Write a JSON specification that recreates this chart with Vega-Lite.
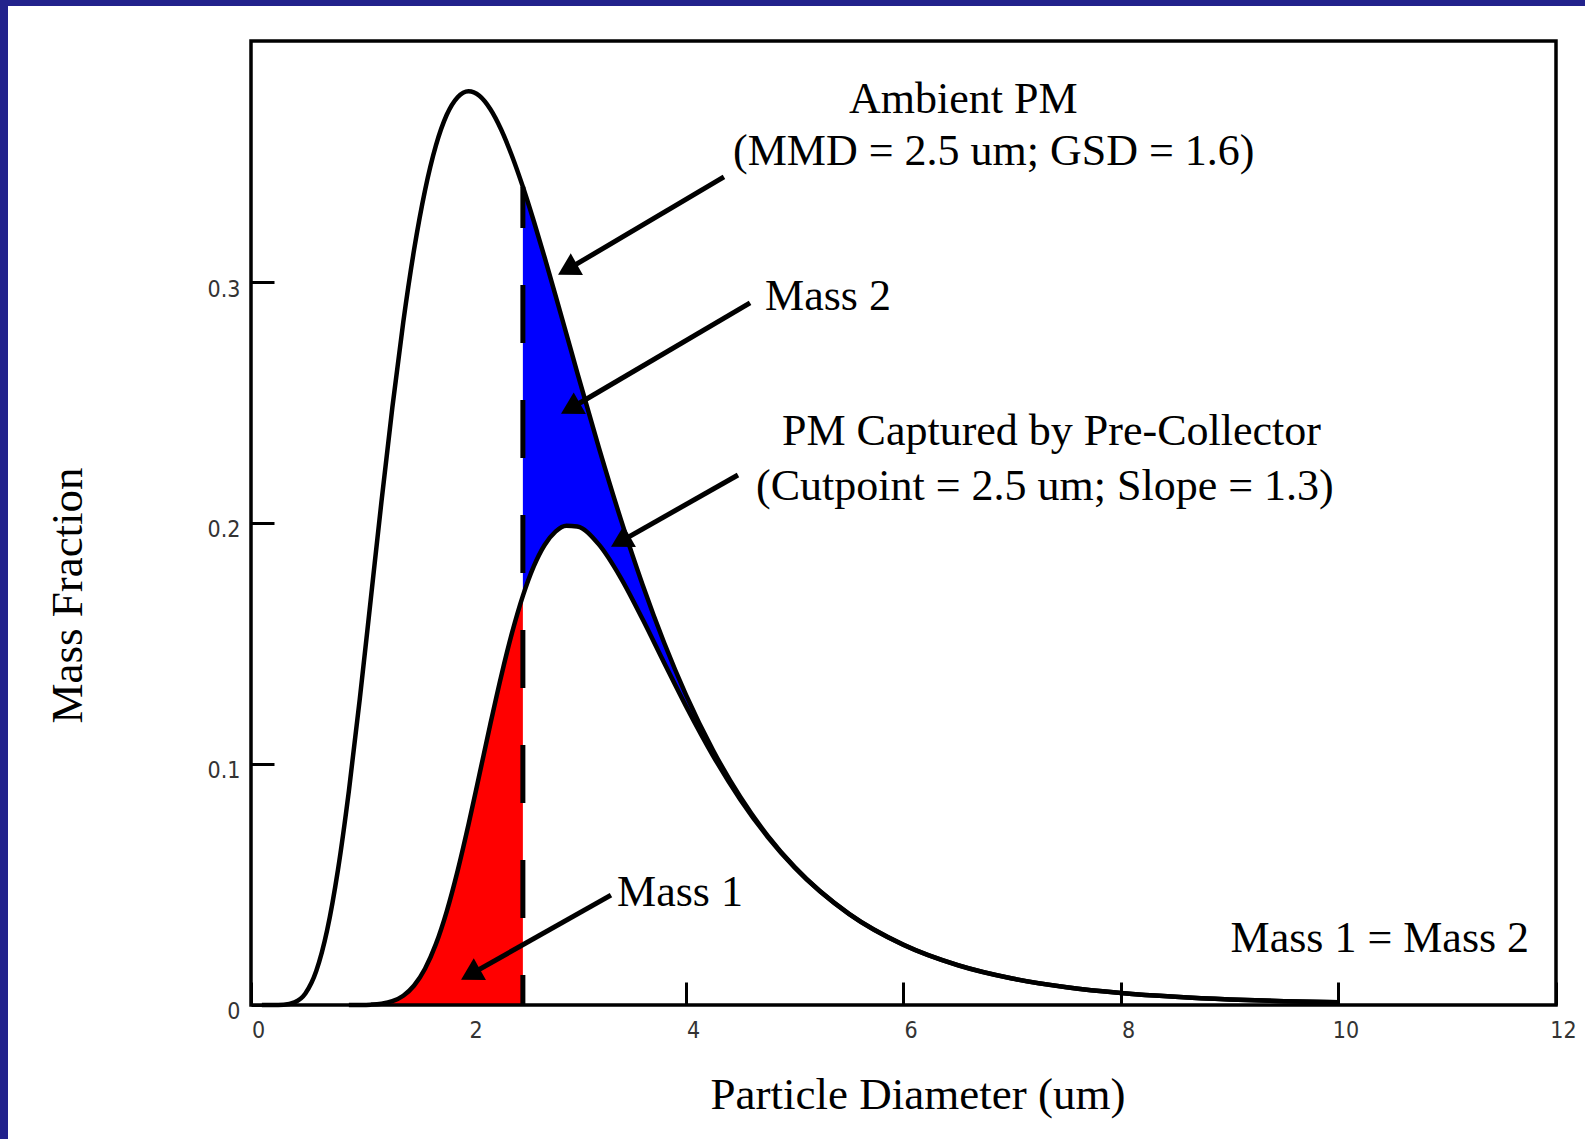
{
  "$schema": "https://vega.github.io/schema/vega-lite/v6.json",
  "width": 1577,
  "height": 1133,
  "autosize": {"type": "none"},
  "padding": {"left": 8, "top": 6, "right": 0, "bottom": 0},
  "background": "#22228c",
  "config": {
    "view": {"fill": "white", "stroke": null},
    "axis": {
      "domain": false,
      "grid": false,
      "tickColor": "black",
      "tickWidth": 3,
      "tickSize": -23,
      "labelFont": "'DejaVu Sans Condensed', 'Liberation Sans', sans-serif",
      "labelFontSize": 23,
      "labelColor": "#333333",
      "labelFlush": false,
      "labelOverlap": false,
      "titleFont": "Liberation Serif",
      "titleFontSize": 45,
      "titleFontWeight": "normal",
      "titleColor": "black"
    },
    "axisX": {
      "offset": -134,
      "labelPadding": 37,
      "labelOffset": 7,
      "labelBaseline": "top",
      "labelAlign": "center",
      "titleX": 909.5,
      "titleY": 103,
      "titleAlign": "center",
      "titleBaseline": "alphabetic"
    },
    "axisY": {
      "offset": -243,
      "labelPadding": 34,
      "labelOffset": 7,
      "labelAlign": "right",
      "labelBaseline": "middle",
      "titleAngle": -90,
      "titleX": -170,
      "titleY": 589,
      "titleAlign": "center",
      "titleBaseline": "alphabetic"
    }
  },
  "datasets": {
    "curve": [
      {"d": 0.1, "ambient": 0, "captured": 0},
      {"d": 0.2, "ambient": 0, "captured": 0},
      {"d": 0.3, "ambient": 0.0001, "captured": 0},
      {"d": 0.4, "ambient": 0.0011, "captured": 0},
      {"d": 0.5, "ambient": 0.0048, "captured": 0},
      {"d": 0.6, "ambient": 0.0141, "captured": 0},
      {"d": 0.7, "ambient": 0.031, "captured": 0},
      {"d": 0.8, "ambient": 0.0562, "captured": 0},
      {"d": 0.9, "ambient": 0.0888, "captured": 0},
      {"d": 1.0, "ambient": 0.1269, "captured": 0.00003},
      {"d": 1.1, "ambient": 0.1678, "captured": 0.00015},
      {"d": 1.2, "ambient": 0.209, "captured": 0.00054},
      {"d": 1.3, "ambient": 0.248, "captured": 0.00157},
      {"d": 1.4, "ambient": 0.2833, "captured": 0.00384},
      {"d": 1.5, "ambient": 0.3135, "captured": 0.00808},
      {"d": 1.6, "ambient": 0.338, "captured": 0.01503},
      {"d": 1.7, "ambient": 0.3566, "captured": 0.02524},
      {"d": 1.8, "ambient": 0.3694, "captured": 0.03888},
      {"d": 1.9, "ambient": 0.3767, "captured": 0.05567},
      {"d": 2.0, "ambient": 0.3792, "captured": 0.07489},
      {"d": 2.1, "ambient": 0.3773, "captured": 0.09553},
      {"d": 2.2, "ambient": 0.3718, "captured": 0.11639},
      {"d": 2.3, "ambient": 0.3633, "captured": 0.13635},
      {"d": 2.4, "ambient": 0.3523, "captured": 0.15439},
      {"d": 2.5, "ambient": 0.3395, "captured": 0.16976},
      {"d": 2.6, "ambient": 0.3253, "captured": 0.18199},
      {"d": 2.7, "ambient": 0.3102, "captured": 0.19088},
      {"d": 2.8, "ambient": 0.2945, "captured": 0.19644},
      {"d": 2.9, "ambient": 0.2785, "captured": 0.19887},
      {"d": 3.0, "ambient": 0.2624, "captured": 0.19852},
      {"d": 3.2, "ambient": 0.2311, "captured": 0.19101},
      {"d": 3.4, "ambient": 0.2016, "captured": 0.17725},
      {"d": 3.6, "ambient": 0.1745, "captured": 0.16014},
      {"d": 3.8, "ambient": 0.1502, "captured": 0.14191},
      {"d": 4.0, "ambient": 0.1287, "captured": 0.124},
      {"d": 4.25, "ambient": 0.1056, "captured": 0.10331},
      {"d": 4.5, "ambient": 0.0863, "captured": 0.08521},
      {"d": 4.75, "ambient": 0.0703, "captured": 0.06982},
      {"d": 5.0, "ambient": 0.0572, "captured": 0.05699},
      {"d": 5.5, "ambient": 0.0378, "captured": 0.03774},
      {"d": 6.0, "ambient": 0.025, "captured": 0.02495},
      {"d": 6.5, "ambient": 0.0165, "captured": 0.01654},
      {"d": 7.0, "ambient": 0.011, "captured": 0.011},
      {"d": 7.5, "ambient": 0.0074, "captured": 0.0074},
      {"d": 8.0, "ambient": 0.005, "captured": 0.005},
      {"d": 8.5, "ambient": 0.0034, "captured": 0.0034},
      {"d": 9.0, "ambient": 0.0023, "captured": 0.0023},
      {"d": 9.5, "ambient": 0.0016, "captured": 0.0016},
      {"d": 10.0, "ambient": 0.0011, "captured": 0.0011}
    ],
    "labels": [
      {"label": "Ambient PM", "tx": 6.55, "ty": 0.3701},
      {"label": "(MMD = 2.5 um; GSD = 1.6)", "tx": 6.83, "ty": 0.3485},
      {"label": "Mass 2", "tx": 5.306, "ty": 0.2884},
      {"label": "PM Captured by Pre-Collector", "tx": 7.36, "ty": 0.2324},
      {"label": "(Cutpoint = 2.5 um; Slope = 1.3)", "tx": 7.3, "ty": 0.2095},
      {"label": "Mass 1", "tx": 3.945, "ty": 0.0411},
      {"label": "Mass 1 = Mass 2", "tx": 10.38, "ty": 0.022}
    ],
    "arrows": [
      {"ax": 4.349, "ay": 0.3436, "hx": 2.91, "hy": 0.3052},
      {"ax": 4.589, "ay": 0.2913, "hx": 2.937, "hy": 0.2475},
      {"ax": 4.478, "ay": 0.2199, "hx": 3.397, "hy": 0.1923},
      {"ax": 3.31, "ay": 0.0456, "hx": 2.018, "hy": 0.0127}
    ]
  },
  "layer": [
    {
      "data": {"name": "curve"},
      "transform": [{"filter": "datum.d >= 1.0 && datum.d <= 2.5"}],
      "mark": {"type": "area", "color": "#ff0000", "interpolate": "monotone"},
      "encoding": {
        "x": {
          "field": "d", "type": "quantitative",
          "scale": {"domain": [-2.234483, 12.266667], "nice": false, "zero": false},
          "axis": {"values": [0, 2, 4, 6, 8, 10, 12], "format": "d", "title": "Particle Diameter (um)"}
        },
        "y": {
          "field": "captured", "type": "quantitative",
          "scale": {"domain": [-0.055602, 0.414523], "nice": false, "zero": false},
          "axis": {"values": [0, 0.1, 0.2, 0.3], "format": "~g", "title": "Mass Fraction"}
        },
        "y2": {"datum": 0}
      }
    },
    {
      "data": {"name": "curve"},
      "transform": [{"filter": "datum.d >= 2.5"}],
      "mark": {"type": "area", "color": "#0000ff", "interpolate": "monotone"},
      "encoding": {
        "x": {"field": "d", "type": "quantitative"},
        "y": {"field": "ambient", "type": "quantitative"},
        "y2": {"field": "captured"}
      }
    },
    {
      "data": {"values": [{"cx": 2.5, "lo": 0, "hi": 0.3395}]},
      "mark": {"type": "rule", "color": "black", "strokeWidth": 5, "strokeDash": [58, 57], "strokeDashOffset": 28},
      "encoding": {
        "x": {"field": "cx", "type": "quantitative"},
        "y": {"field": "lo", "type": "quantitative"},
        "y2": {"field": "hi"}
      }
    },
    {
      "data": {"name": "curve"},
      "mark": {"type": "line", "color": "black", "strokeWidth": 4.5, "interpolate": "monotone", "strokeJoin": "round"},
      "encoding": {
        "x": {"field": "d", "type": "quantitative"},
        "y": {"field": "ambient", "type": "quantitative"}
      }
    },
    {
      "data": {"name": "curve"},
      "transform": [{"filter": "datum.d >= 0.9"}],
      "mark": {"type": "line", "color": "black", "strokeWidth": 4.5, "interpolate": "monotone", "strokeJoin": "round"},
      "encoding": {
        "x": {"field": "d", "type": "quantitative"},
        "y": {"field": "captured", "type": "quantitative"}
      }
    },
    {
      "data": {"values": [{"fx0": 0, "fx1": 12, "fy0": 0, "fy1": 0.4}]},
      "mark": {"type": "rect", "filled": false, "stroke": "black", "strokeWidth": 3.5},
      "encoding": {
        "x": {"field": "fx0", "type": "quantitative"},
        "x2": {"field": "fx1"},
        "y": {"field": "fy0", "type": "quantitative"},
        "y2": {"field": "fy1"}
      }
    },
    {
      "data": {"name": "arrows"},
      "mark": {"type": "rule", "color": "black", "strokeWidth": 5},
      "encoding": {
        "x": {"field": "ax", "type": "quantitative"},
        "y": {"field": "ay", "type": "quantitative"},
        "x2": {"field": "hx"},
        "y2": {"field": "hy"}
      }
    },
    {
      "data": {"name": "arrows"},
      "mark": {"type": "point", "shape": "triangle-up", "angle": 240.6, "size": 620, "filled": true, "color": "black", "opacity": 1, "strokeWidth": 0},
      "encoding": {
        "x": {"field": "hx", "type": "quantitative"},
        "y": {"field": "hy", "type": "quantitative"}
      }
    },
    {
      "data": {"name": "labels"},
      "mark": {"type": "text", "font": "Liberation Serif", "fontSize": 44, "align": "center", "baseline": "alphabetic", "color": "black"},
      "encoding": {
        "x": {"field": "tx", "type": "quantitative"},
        "y": {"field": "ty", "type": "quantitative"},
        "text": {"field": "label"}
      }
    }
  ]
}
